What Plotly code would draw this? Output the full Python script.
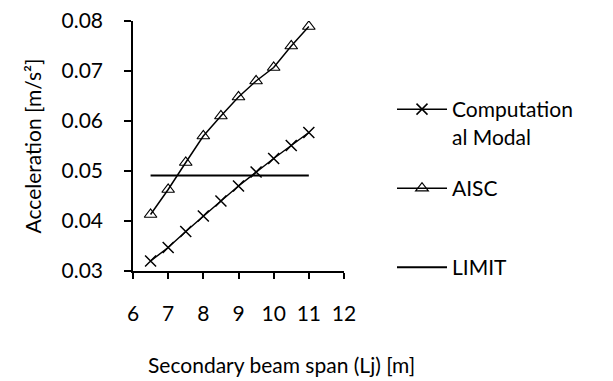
import plotly.graph_objects as go

span = [6.5, 7.0, 7.5, 8.0, 8.5, 9.0, 9.5, 10.0, 10.5, 11.0]
modal = [0.0320, 0.0347, 0.0379, 0.0410, 0.0440, 0.0470, 0.0498, 0.0525, 0.0551, 0.0577]
aisc = [0.0413, 0.0463, 0.0517, 0.0570, 0.0610, 0.0648, 0.0680, 0.0707, 0.0750, 0.0789]
limit_x = [6.5, 11.0]
limit_y = [0.0491, 0.0491]

FONT = "Lato"
FS = 21

fig = go.Figure()
fig.add_trace(go.Scatter(
    x=span, y=modal, mode="lines+markers", name="Computation<br>al Modal",
    line=dict(color="black", width=1.5),
    marker=dict(symbol="x-thin-open", size=11, line=dict(color="black", width=1.5)),
    legend="legend", showlegend=True))
fig.add_trace(go.Scatter(
    x=span, y=aisc, mode="lines+markers", name="AISC",
    line=dict(color="black", width=1.5),
    marker=dict(symbol="triangle-up-open", size=11, color="black", line=dict(color="black", width=1.2)),
    legend="legend2", showlegend=True))
fig.add_trace(go.Scatter(
    x=limit_x, y=limit_y, mode="lines", name="LIMIT",
    line=dict(color="black", width=2),
    legend="legend3", showlegend=True))

leg_common = dict(font=dict(family=FONT, size=FS, color="black"), bgcolor="rgba(0,0,0,0)",
                  xanchor="left", yanchor="top", itemwidth=50, valign="top", borderwidth=0,
                  xref="container", yref="container", x=392 / 613)

fig.update_layout(
    width=613, height=381, showlegend=True,
    margin=dict(l=133, r=269, t=21, b=110, autoexpand=False),
    paper_bgcolor="white", plot_bgcolor="white",
    font=dict(family=FONT, size=FS, color="black"),
    xaxis=dict(range=[6, 12], tickvals=[6, 7, 8, 9, 10, 11, 12], showgrid=False, zeroline=False,
               showline=True, linecolor="black", linewidth=1.5, ticks="outside", ticklen=6,
               tickcolor="black", tickwidth=1.5, ticklabelstandoff=17,
               tickfont=dict(family=FONT, size=FS, color="black")),
    yaxis=dict(range=[0.03, 0.08], tickvals=[0.03, 0.04, 0.05, 0.06, 0.07, 0.08],
               tickformat=".2f", showgrid=False, zeroline=False,
               showline=True, linecolor="black", linewidth=1.5, ticks="outside", ticklen=7,
               tickcolor="black", tickwidth=1.5, ticklabelstandoff=17,
               title=dict(text="Acceleration [m/s²]", font=dict(family=FONT, size=FS, color="black"),
                          standoff=14),
               tickfont=dict(family=FONT, size=FS, color="black")),
    legend=dict(y=(381 - 89) / 381, **leg_common),
    legend2=dict(y=(381 - 168) / 381, **leg_common),
    legend3=dict(y=(381 - 247) / 381, **leg_common),
    annotations=[dict(text="Secondary beam span (Lj) [m]", xref="paper", yref="paper",
                      x=0.706, y=-0.372, xanchor="center", yanchor="middle",
                      showarrow=False, font=dict(family=FONT, size=FS, color="black"))],
)

fig.write_html("out.html", config={"displayModeBar": False},
               post_script="document.body.style.margin='0px';")
